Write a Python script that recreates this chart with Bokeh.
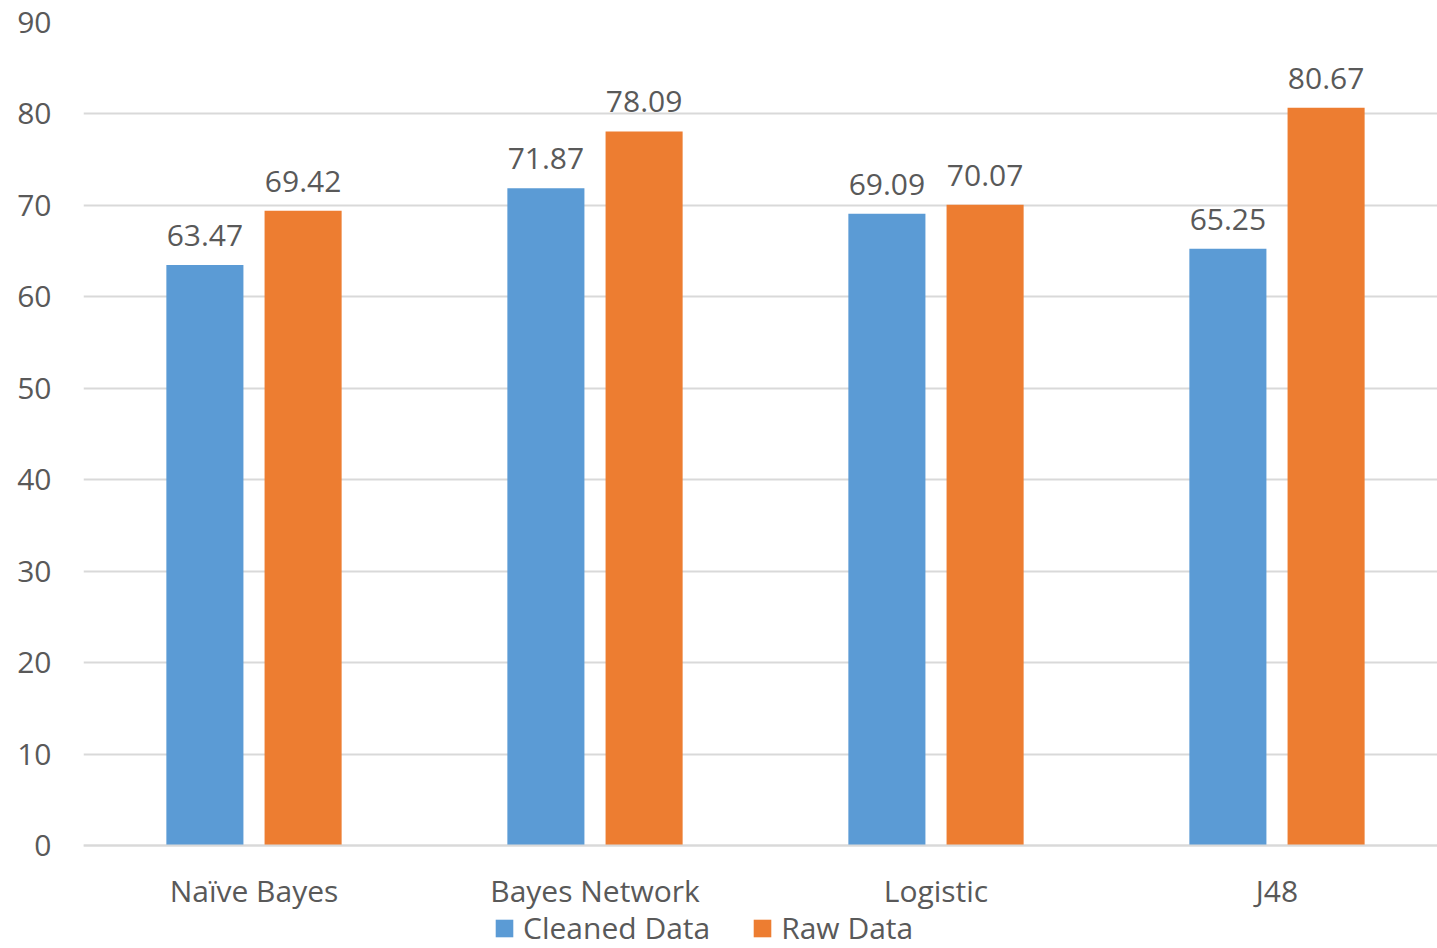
from bokeh.plotting import figure
from bokeh.models import (ColumnDataSource, Range1d, FixedTicker, Legend, LegendItem,
                          LabelSet)
from bokeh.core.properties import value
from bokeh.transform import dodge
from bokeh.embed import file_html
from bokeh.resources import INLINE

# Classification accuracy per classifier
classifiers = ["Naïve Bayes", "Bayes Network", "Logistic", "J48"]
cleaned_data = [63.47, 71.87, 69.09, 65.25]
raw_data = [69.42, 78.09, 70.07, 80.67]
y_ticks = [0, 10, 20, 30, 40, 50, 60, 70, 80, 90]

BLUE = "#5B9BD5"
ORANGE = "#ED7D31"
TEXT = "#595959"
GRID = "#D9D9D9"
FONT = "Open Sans"
FS = "30px"

pos = [i + 0.5 for i in range(len(classifiers))]
src = ColumnDataSource(dict(
    x=pos,
    cleaned=cleaned_data,
    raw=raw_data,
    cleaned_lbl=[f"{v:.2f}" for v in cleaned_data],
    raw_lbl=[f"{v:.2f}" for v in raw_data],
))

# the y range reaches below zero so the category labels and legend sit under the baseline
p = figure(width=1437, height=948, output_backend="svg", toolbar_location=None,
           x_range=Range1d(0, 3.9707), y_range=Range1d(-11.264, 90),
           min_border_left=83, min_border_right=0, min_border_top=22,
           min_border_bottom=0)
p.outline_line_color = None
p.background_fill_color = "white"
p.border_fill_color = "white"

bw = 0.226
off = 0.144
r1 = p.vbar(x=dodge("x", -off), top="cleaned", width=bw, source=src,
            fill_color=BLUE, line_color=None)
r2 = p.vbar(x=dodge("x", off), top="raw", width=bw, source=src,
            fill_color=ORANGE, line_color=None)

for col, lbl, d in (("cleaned", "cleaned_lbl", -off), ("raw", "raw_lbl", off)):
    p.add_layout(LabelSet(x=dodge("x", d), y=col, text=lbl, source=src,
                          text_align="center", text_baseline="bottom", y_offset=19,
                          text_font=value(FONT), text_font_size=FS, text_color=TEXT))

# y axis
p.yaxis.ticker = FixedTicker(ticks=y_ticks)
p.yaxis.axis_line_color = None
p.yaxis.major_tick_line_color = None
p.yaxis.minor_tick_line_color = None
p.yaxis.major_label_standoff = 26
p.yaxis.major_label_text_font = FONT
p.yaxis.major_label_text_font_size = FS
p.yaxis.major_label_text_color = TEXT

# x axis pinned to the zero line
p.xaxis.fixed_location = 0
p.xaxis.ticker = FixedTicker(ticks=pos)
p.xaxis.major_label_overrides = {v: c for v, c in zip(pos, classifiers)}
p.xaxis.axis_line_color = GRID
p.xaxis.axis_line_width = 2
p.xaxis.major_tick_line_color = None
p.xaxis.minor_tick_line_color = None
p.xaxis.major_label_standoff = 19
p.xaxis.major_label_text_font = FONT
p.xaxis.major_label_text_font_size = FS
p.xaxis.major_label_text_color = TEXT

p.xgrid.grid_line_color = None
p.ygrid.grid_line_color = GRID
p.ygrid.grid_line_width = 2

legend = Legend(items=[LegendItem(label="Cleaned Data", renderers=[r1]),
                       LegendItem(label="Raw Data", renderers=[r2])],
                orientation="horizontal", location=(410, 0),
                border_line_color=None, background_fill_alpha=0,
                label_text_font=FONT, label_text_font_size=FS,
                label_text_color=TEXT, glyph_width=22, glyph_height=22,
                label_standoff=8, spacing=41, padding=0, margin=0)
p.add_layout(legend, "center")

open("out.html", "w").write(file_html(p, INLINE))
